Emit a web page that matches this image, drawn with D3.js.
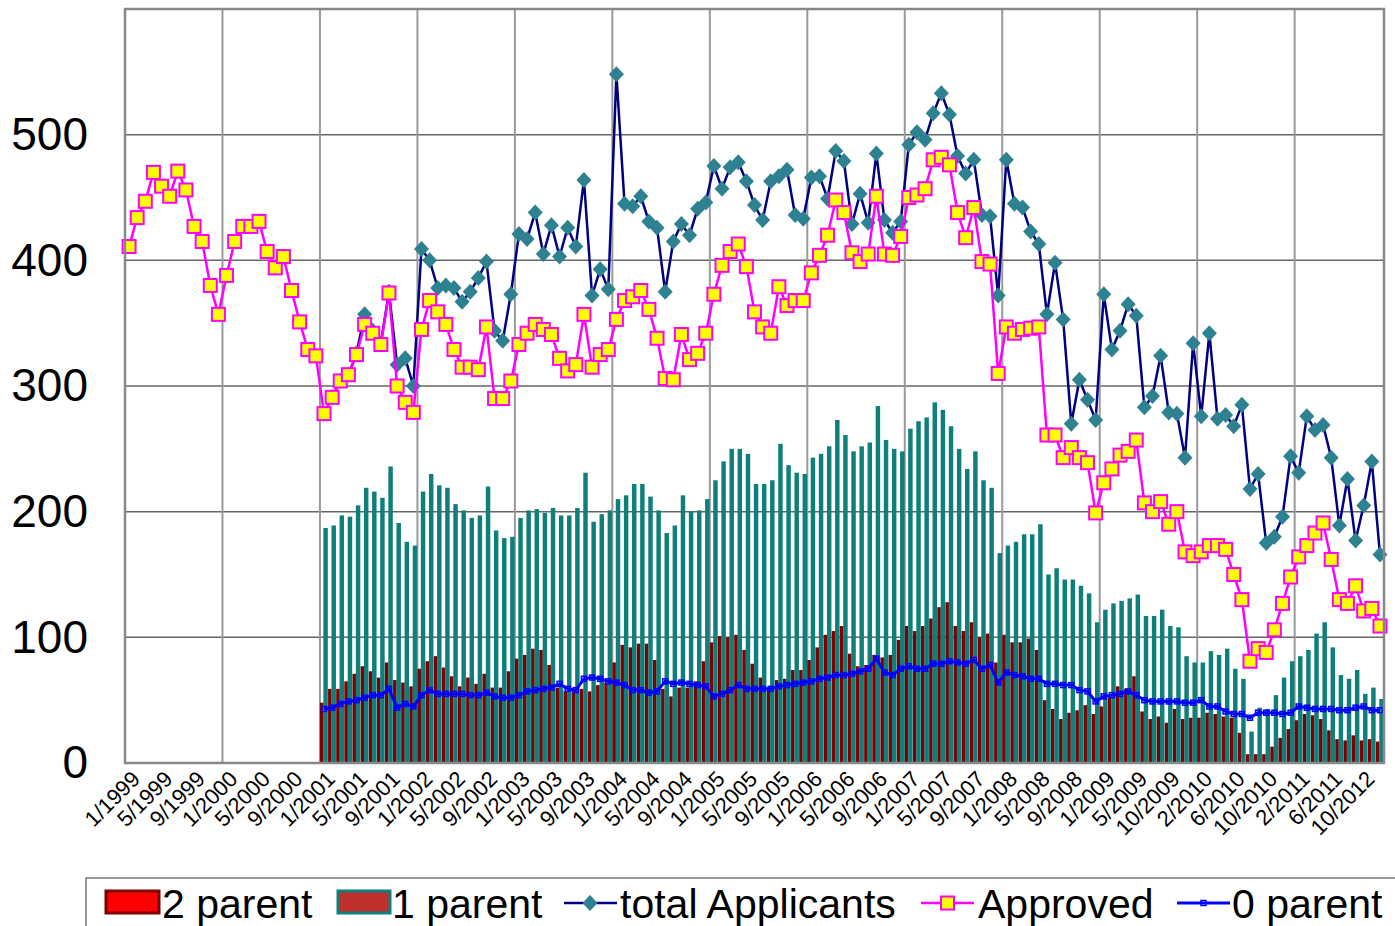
<!DOCTYPE html>
<html>
<head>
<meta charset="utf-8">
<script src="https://cdn.jsdelivr.net/npm/d3@7"></script>
<style>
  body { margin: 0; background: #fff; }
  text { font-family: Arial, "Liberation Sans", sans-serif; fill: #000; }
</style>
</head>
<body>
<div id="chart"></div>
<script>
const WIDTH = 1395;
const HEIGHT = 926;
const LEFT = 125;
const RIGHT = 1384;
const TOP = 9;
const BOTTOM = 763;
const N_MONTHS = 155;     // monthly categories from 1/1999
const START_2001 = 24;    // bars, applicants and 0 parent start at 1/2001

const tickLabels = ['1/1999','5/1999','9/1999','1/2000','5/2000','9/2000','1/2001','5/2001','9/2001',
  '1/2002','5/2002','9/2002','1/2003','5/2003','9/2003','1/2004','5/2004','9/2004','1/2005','5/2005',
  '9/2005','1/2006','5/2006','9/2006','1/2007','5/2007','9/2007','1/2008','5/2008','9/2008','1/2009',
  '5/2009','10/2009','2/2010','6/2010','10/2010','2/2011','6/2011','10/2012'];

const yTicks = [0, 100, 200, 300, 400, 500];

// from 1/1999
const approved = [411,434,447,470,459,451,471,456,427,415,380,357,388,415,427,427,431,407,394,403,376,351,329,324,
  278,291,304,309,325,349,342,333,374,300,287,279,345,368,359,349,329,315,315,313,347,290,290,304,333,342,
  349,345,341,322,312,317,357,315,325,329,353,368,371,376,361,338,306,305,341,321,326,342,373,396,407,413,
  395,359,347,342,379,364,368,368,390,404,420,448,438,406,399,405,451,405,404,419,450,452,457,480,482,476,
  438,418,442,399,397,310,347,342,345,346,347,261,261,243,251,243,239,199,223,234,245,248,257,207,200,208,
  190,200,168,165,168,173,173,170,150,130,81,91,88,106,127,148,164,173,183,191,162,130,127,141,121,123,109];

// from 1/2001
const totalApplicants = [278,291,304,309,326,357,344,334,375,317,322,300,409,400,378,380,378,367,375,386,
  399,344,336,373,421,417,438,405,428,403,426,411,464,372,393,377,548,445,443,451,431,426,375,415,429,420,
  441,446,475,457,474,478,463,444,432,463,467,472,436,433,466,467,449,487,479,429,453,430,485,432,422,431,
  492,502,496,517,533,516,483,469,480,436,435,372,480,445,442,423,413,357,398,353,270,305,289,273,373,329,
  344,365,356,283,292,324,279,278,243,334,276,342,274,277,268,285,218,230,175,180,196,244,231,276,265,269,
  243,189,226,177,205,240,166];

const twoParent = [48,59,59,65,71,77,73,68,80,66,64,61,75,81,85,76,69,61,68,63,71,60,60,73,83,86,91,90,78,60,
  57,59,59,57,62,64,80,94,92,95,95,82,59,53,60,60,65,81,96,101,100,102,90,79,68,60,66,67,74,74,82,92,102,
  105,109,87,77,78,86,84,86,98,109,105,109,115,124,128,109,105,112,100,103,80,102,96,96,99,90,50,43,35,40,
  42,46,39,45,52,61,59,69,41,35,37,32,43,35,36,36,40,39,37,36,24,7,7,7,13,20,27,34,39,38,35,26,19,18,22,18,
  19,17];

const oneParent = [187,189,197,196,205,219,216,211,236,191,176,173,216,230,221,219,206,201,195,197,220,185,
  179,180,195,201,202,199,203,197,197,203,231,192,198,201,210,213,222,222,212,201,183,189,213,200,201,210,
  225,240,250,250,246,222,222,225,254,237,231,230,243,246,252,273,261,248,252,255,284,257,250,248,266,272,
  275,287,281,268,250,234,248,225,219,167,173,176,182,182,190,150,155,146,146,141,135,112,122,127,129,131,
  134,117,117,122,109,108,85,80,80,89,86,91,75,67,25,44,43,54,68,81,85,90,103,112,92,70,67,74,55,60,51];

const zeroParent = [43,44,47,49,50,52,54,54,59,44,47,45,54,58,55,55,55,55,54,54,56,53,52,52,54,57,58,59,60,63,
  59,58,67,68,67,65,64,62,58,58,56,57,65,63,64,63,62,61,53,55,58,62,59,59,59,59,61,62,63,64,65,67,68,70,70,
  71,73,75,83,72,70,75,77,75,75,79,79,81,80,79,82,75,78,64,72,70,69,67,67,63,63,62,62,58,57,49,53,54,55,57,
  54,50,49,49,49,49,48,48,50,45,45,41,39,39,36,40,40,40,39,40,45,44,43,43,43,42,42,44,45,42,42];

const svg = d3.select('#chart').append('svg')
  .attr('width', WIDTH)
  .attr('height', HEIGHT);

const x = d3.scaleBand().domain(d3.range(N_MONTHS)).range([LEFT, RIGHT]).padding(0);
const y = d3.scaleLinear().domain([0, 600]).range([BOTTOM, TOP]);
const bw = x.bandwidth();
const cx = (k) => x(k) + bw / 2;

// gridlines
svg.append('g').selectAll('line')
  .data(yTicks.filter((d) => d > 0))
  .enter().append('line')
  .attr('x1', LEFT).attr('x2', RIGHT)
  .attr('y1', (d) => y(d)).attr('y2', (d) => y(d))
  .attr('stroke', '#666').attr('stroke-width', 1.5);

svg.append('g').selectAll('line')
  .data(d3.range(12, N_MONTHS, 12))
  .enter().append('line')
  .attr('x1', (k) => x(k)).attr('x2', (k) => x(k))
  .attr('y1', TOP).attr('y2', BOTTOM)
  .attr('stroke', '#999').attr('stroke-width', 2);

// bars
const barGroup = svg.append('g');
barGroup.selectAll('rect.two')
  .data(twoParent)
  .enter().append('rect')
  .attr('class', 'two')
  .attr('x', (d, i) => x(i + START_2001))
  .attr('width', bw * 0.44)
  .attr('y', (d) => y(d))
  .attr('height', (d) => y(0) - y(d))
  .attr('fill', '#7f0000');

barGroup.selectAll('rect.one')
  .data(oneParent)
  .enter().append('rect')
  .attr('class', 'one')
  .attr('x', (d, i) => x(i + START_2001) + bw * 0.42)
  .attr('width', bw * 0.55)
  .attr('y', (d) => y(d))
  .attr('height', (d) => y(0) - y(d))
  .attr('fill', '#0e7f7b');

// lines
const line = d3.line().x((d) => cx(d.k)).y((d) => y(d.v));
const withIndex = (arr, start) => arr.map((v, i) => ({ k: i + start, v: v }));

const totalPts = withIndex(totalApplicants, START_2001);
const approvedPts = withIndex(approved, 0);
const zeroPts = withIndex(zeroParent, START_2001);

svg.append('path')
  .attr('d', line(totalPts))
  .attr('fill', 'none').attr('stroke', '#000080').attr('stroke-width', 2.5);
svg.append('g').selectAll('path')
  .data(totalPts)
  .enter().append('path')
  .attr('d', 'M0,-8L7.5,0L0,8L-7.5,0Z')
  .attr('transform', (d) => `translate(${cx(d.k)},${y(d.v)})`)
  .attr('fill', '#2e8191');

svg.append('path')
  .attr('d', line(approvedPts))
  .attr('fill', 'none').attr('stroke', '#ff00ff').attr('stroke-width', 2.5);
svg.append('g').selectAll('rect')
  .data(approvedPts)
  .enter().append('rect')
  .attr('x', (d) => cx(d.k) - 6.5).attr('y', (d) => y(d.v) - 6.5)
  .attr('width', 13).attr('height', 13)
  .attr('fill', '#ffff00').attr('stroke', '#ff00ff').attr('stroke-width', 2);

svg.append('path')
  .attr('d', line(zeroPts))
  .attr('fill', 'none').attr('stroke', '#0000ff').attr('stroke-width', 3);
svg.append('g').selectAll('rect')
  .data(zeroPts)
  .enter().append('rect')
  .attr('x', (d) => cx(d.k) - 2.5).attr('y', (d) => y(d.v) - 2.5)
  .attr('width', 5).attr('height', 5)
  .attr('fill', 'none').attr('stroke', '#0000ff').attr('stroke-width', 1.5);

// plot frame
svg.append('rect')
  .attr('x', LEFT).attr('y', TOP)
  .attr('width', RIGHT - LEFT).attr('height', BOTTOM - TOP)
  .attr('fill', 'none').attr('stroke', '#888').attr('stroke-width', 2.5);

// y axis
const yAxis = svg.append('g')
  .attr('transform', `translate(${LEFT},0)`)
  .call(d3.axisLeft(y).tickValues(yTicks).tickSize(0).tickPadding(37));
yAxis.select('.domain').remove();
yAxis.selectAll('text')
  .attr('font-size', 46)
  .attr('font-family', 'Arial, "Liberation Sans", sans-serif')
  .attr('fill', '#000');

// x axis labels, every 4th month
const xAxis = svg.append('g')
  .attr('transform', `translate(0,${BOTTOM})`)
  .call(d3.axisBottom(x)
    .tickValues(tickLabels.map((t, i) => i * 4))
    .tickFormat((k) => tickLabels[k / 4])
    .tickSize(0));
xAxis.select('.domain').remove();
xAxis.selectAll('text')
  .attr('font-size', 22)
  .attr('font-family', 'Arial, "Liberation Sans", sans-serif')
  .attr('fill', '#000')
  .attr('text-anchor', 'end')
  .attr('dy', '0.72em')
  .attr('transform', 'translate(-1,4) rotate(-45)');

// legend
const legend = svg.append('g');
legend.append('rect')
  .attr('x', 86).attr('y', 878).attr('width', 1330).attr('height', 70)
  .attr('fill', '#fff').attr('stroke', '#777').attr('stroke-width', 1.5);

const LEG_Y = 903;
legend.append('rect').attr('x', 106).attr('y', 891).attr('width', 53).attr('height', 22)
  .attr('fill', '#ff0000').attr('stroke', '#800000').attr('stroke-width', 3);
legend.append('rect').attr('x', 338).attr('y', 891).attr('width', 52).attr('height', 22)
  .attr('fill', '#c0302c').attr('stroke', '#0e7f7b').attr('stroke-width', 3);

legend.append('line').attr('x1', 564).attr('x2', 617).attr('y1', LEG_Y).attr('y2', LEG_Y)
  .attr('stroke', '#000080').attr('stroke-width', 2.5);
legend.append('path').attr('d', 'M0,-8L7.5,0L0,8L-7.5,0Z')
  .attr('transform', `translate(590,${LEG_Y})`).attr('fill', '#2e8191');

legend.append('line').attr('x1', 921).attr('x2', 974).attr('y1', LEG_Y).attr('y2', LEG_Y)
  .attr('stroke', '#ff00ff').attr('stroke-width', 2.5);
legend.append('rect').attr('x', 941).attr('y', LEG_Y - 6.5).attr('width', 13).attr('height', 13)
  .attr('fill', '#ffff00').attr('stroke', '#ff00ff').attr('stroke-width', 2);

legend.append('line').attr('x1', 1177).attr('x2', 1230).attr('y1', LEG_Y).attr('y2', LEG_Y)
  .attr('stroke', '#0000ff').attr('stroke-width', 3);
legend.append('rect').attr('x', 1201).attr('y', LEG_Y - 2.5).attr('width', 5).attr('height', 5)
  .attr('fill', 'none').attr('stroke', '#0000ff').attr('stroke-width', 1.5);

const legendText = [
  { x: 162, t: '2 parent' },
  { x: 392, t: '1 parent' },
  { x: 620, t: 'total Applicants' },
  { x: 978, t: 'Approved' },
  { x: 1232, t: '0 parent' },
];
legend.selectAll('text')
  .data(legendText)
  .enter().append('text')
  .attr('x', (d) => d.x).attr('y', LEG_Y + 15)
  .attr('font-size', 41)
  .attr('textLength', null)
  .text((d) => d.t);
</script>
</body>
</html>
